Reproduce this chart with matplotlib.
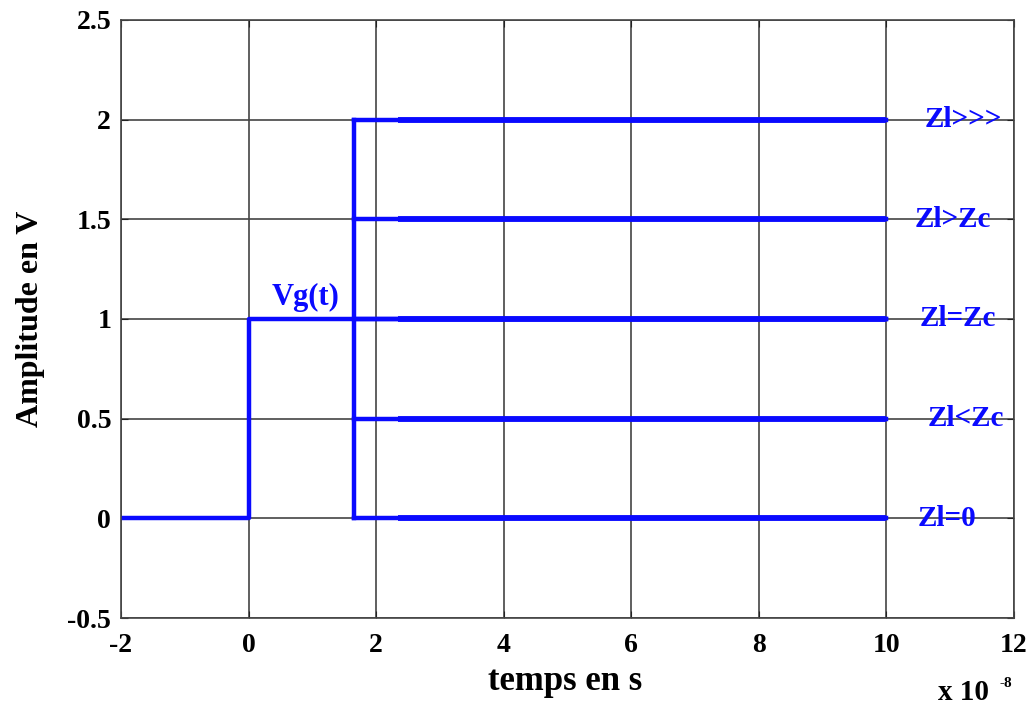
import matplotlib
matplotlib.use("Agg")
import matplotlib.pyplot as plt

# time in units of 1e-8 s
t_gen = [-2, 0, 0, 10]
v_gen = [0, 0, 1, 1]

t_refl = 1.65
t_thick = 2.35
t_end = 10
refl_levels = [2, 1.5, 1, 0.5, 0]
right_labels = ["Zl>>>", "Zl>Zc", "Zl=Zc", "Zl<Zc", "Zl=0"]
label_x = [11.2, 11.04, 11.12, 11.25, 10.95]

xticks = [-2, 0, 2, 4, 6, 8, 10, 12]
yticks = [-0.5, 0, 0.5, 1, 1.5, 2, 2.5]
ytick_labels = ["-0.5", "0", "0.5", "1", "1.5", "2", "2.5"]

blue = "#0a0aff"
plt.rcParams["font.family"] = ["Liberation Serif", "DejaVu Serif"]

fig = plt.figure(figsize=(10.32, 7.08), dpi=100)
ax = fig.add_axes([0.1172, 0.1271, 0.8654, 0.8447])

ax.plot(t_gen, v_gen, color=blue, lw=3.2)
ax.plot([t_refl, t_refl], [0, 2], color=blue, lw=3.2)
for lev in refl_levels:
    ax.plot([t_refl, t_end], [lev, lev], color=blue, lw=3.2)
    ax.plot([t_thick, t_end], [lev, lev], color=blue, lw=4.2,
            solid_capstyle="butt")

ax.text(0.9, 1.11, "Vg(t)", color=blue, fontsize=22, fontweight="bold",
        ha="center", va="center")
for name, lev, xx in zip(right_labels, refl_levels, label_x):
    ax.text(xx, lev, name, color=blue, fontsize=21, fontweight="bold",
            ha="center", va="center")

ax.set_xlim(-2, 12)
ax.set_ylim(-0.5, 2.5)
ax.set_xticks(xticks)
ax.set_yticks(yticks)
ax.set_xticklabels([str(v) for v in xticks])
ax.set_yticklabels(ytick_labels)
ax.grid(True, color="#444444", lw=1.2)
ax.tick_params(direction="in", top=True, right=True, labelsize=20, length=5,
               color="#222222")
ax.tick_params(axis="x", pad=11)
ax.tick_params(axis="y", pad=7)
for lab in ax.get_xticklabels() + ax.get_yticklabels():
    lab.set_fontweight("bold")
for sp in ax.spines.values():
    sp.set_color("#444444")
    sp.set_linewidth(1.2)

ax.set_xlabel("temps en s", fontsize=25, fontweight="bold")
ax.xaxis.set_label_coords(0.497, -0.078)
ax.set_ylabel("Amplitude en V", fontsize=23, fontweight="bold")
ax.yaxis.set_label_coords(-0.085, 0.5)

fig.text(938 / 1032, 8 / 708, "x 10", fontsize=21, fontweight="bold",
         ha="left", va="baseline")
fig.text(1000 / 1032, 21 / 708, "-8", fontsize=11, fontweight="bold",
         ha="left", va="baseline")

fig.savefig("out.png", dpi=100)
